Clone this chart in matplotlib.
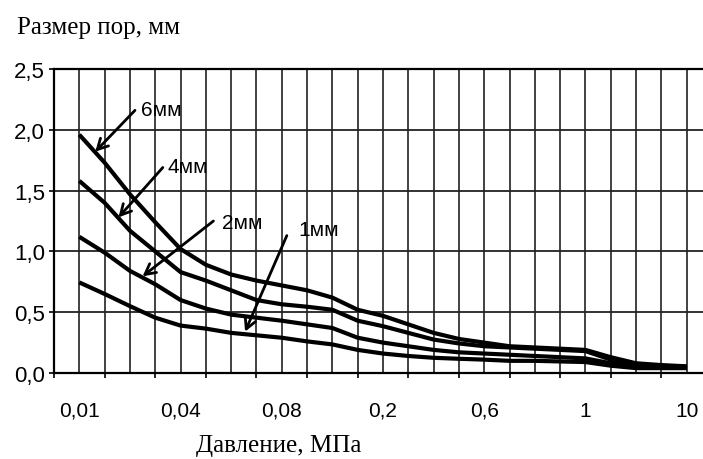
import numpy as np
import matplotlib.pyplot as plt

### ============= ### ###  Dados  ### ###  ============= ###
# 25 pontos igualmente espaçados no eixo categórico (índice 0..24)
x_idx = np.arange(25)
tick_pos = [0, 4, 8, 12, 16, 20, 24]
tick_labels = ["0,01", "0,04", "0,08", "0,2", "0,6", "1", "10"]

poros_6mm = [1.96, 1.73, 1.47, 1.24, 1.02, 0.89, 0.81, 0.76, 0.72, 0.68, 0.62, 0.52, 0.47,
             0.40, 0.33, 0.28, 0.25, 0.22, 0.21, 0.20, 0.19, 0.13, 0.08, 0.065, 0.055]
poros_4mm = [1.58, 1.40, 1.17, 1.00, 0.83, 0.76, 0.68, 0.60, 0.565, 0.545, 0.52, 0.43, 0.385,
             0.33, 0.275, 0.243, 0.22, 0.21, 0.20, 0.19, 0.18, 0.11, 0.07, 0.06, 0.05]
poros_2mm = [1.12, 0.99, 0.84, 0.73, 0.60, 0.53, 0.48, 0.455, 0.43, 0.40, 0.37, 0.29, 0.25,
             0.22, 0.19, 0.17, 0.16, 0.15, 0.14, 0.13, 0.12, 0.08, 0.055, 0.05, 0.045]
poros_1mm = [0.745, 0.65, 0.55, 0.455, 0.39, 0.365, 0.33, 0.31, 0.29, 0.26, 0.235, 0.19, 0.16,
             0.14, 0.125, 0.117, 0.11, 0.10, 0.10, 0.095, 0.09, 0.06, 0.04, 0.04, 0.04]

# rótulos das curvas: (texto, posição do texto, início da seta, ponta da seta)
rotulos = [
    ("6мм", (2.45, 2.17), (2.2, 2.16), (0.63, 1.82)),
    ("4мм", (3.5, 1.70), (3.3, 1.69), (1.55, 1.28)),
    ("2мм", (5.65, 1.24), (5.3, 1.25), (2.5, 0.795)),
    ("1мм", (8.65, 1.18), (8.2, 1.13), (6.55, 0.34)),
]

### ============= ### ###  Figura  ### ###  ============= ###
fig = plt.figure(figsize=(7.03, 4.60), dpi=100)
ax = fig.add_axes([54 / 703, 1 - 374 / 460, (712 - 54) / 703, 304 / 460])

for serie in [poros_6mm, poros_4mm, poros_2mm, poros_1mm]:
    ax.plot(x_idx, serie, color="black", lw=3.0, solid_capstyle="butt",
            solid_joinstyle="round", zorder=3)

for texto, pos_txt, cauda, ponta in rotulos:
    ax.annotate("", xy=ponta, xytext=cauda,
                arrowprops=dict(arrowstyle="->,head_length=0.75,head_width=0.4",
                                color="black", lw=2.0, shrinkA=0, shrinkB=0), zorder=4)
    ax.text(pos_txt[0], pos_txt[1], texto, fontsize=15, family="Liberation Sans",
            ha="left", va="center")

ax.set_xlim(-1, 25)
ax.set_ylim(0, 2.5)
ax.set_yticks(np.arange(0, 2.51, 0.5))
ax.set_yticklabels([f"{v:.1f}".replace(".", ",") for v in np.arange(0, 2.51, 0.5)],
                   family="Liberation Sans", fontsize=16)
ax.set_xticks(tick_pos)
ax.set_xticklabels(tick_labels, family="Liberation Sans", fontsize=15)
ax.set_xticks(np.arange(-1, 26, 2), minor=True)
ax.tick_params(axis="x", which="major", length=0, pad=20)
ax.tick_params(axis="x", which="minor", length=3.5, width=1.2, direction="out")
ax.tick_params(axis="y", length=3.5, width=1.2, direction="out", pad=3)

# grade: uma linha vertical por ponto
for xi in x_idx:
    ax.axvline(xi, color="#333333", lw=1.3, zorder=1)
for yv in np.arange(0.5, 2.5, 0.5):
    ax.axhline(yv, color="#222222", lw=1.3, zorder=1)
for s in ax.spines.values():
    s.set_linewidth(1.6)

fig.text(17 / 703, 1 - 28 / 460, "Размер пор, мм", family="Liberation Serif",
         fontsize=18, ha="left", va="center")
fig.text(279 / 703, 1 - 446 / 460, "Давление, МПа", family="Liberation Serif",
         fontsize=18, ha="center", va="center")

fig.savefig("out.png", dpi=100)
